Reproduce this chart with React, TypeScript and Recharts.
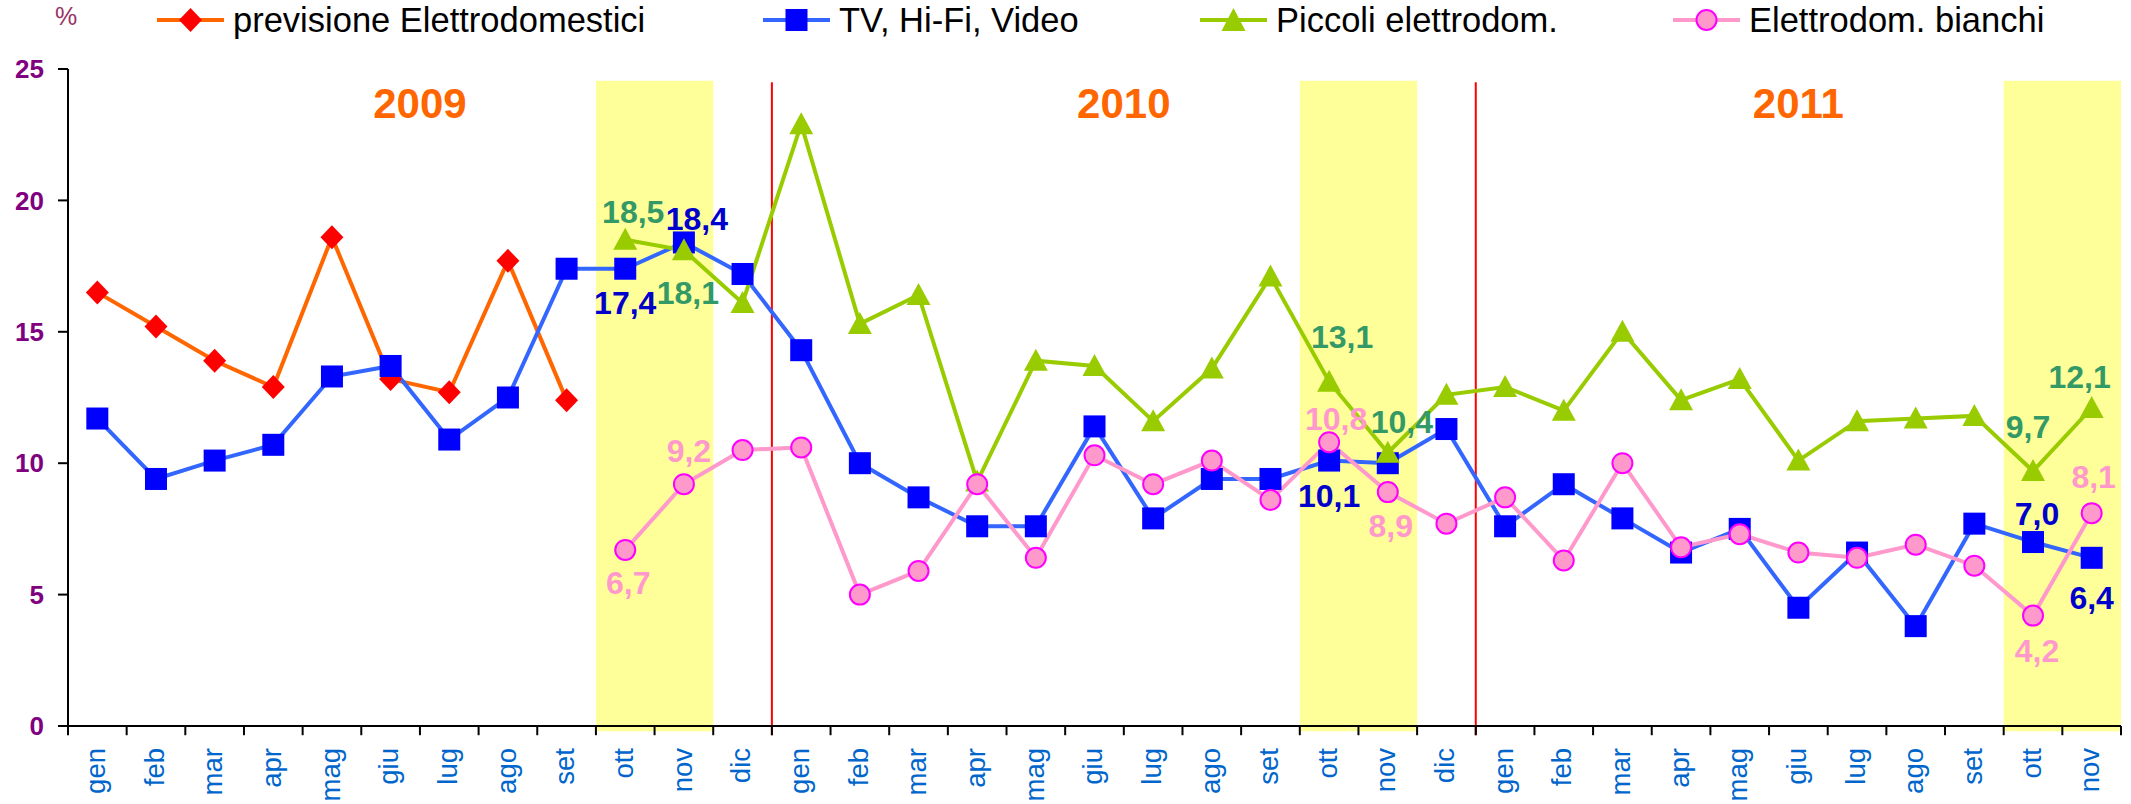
import React from 'react';
import { LineChart, Line, XAxis, YAxis, ReferenceArea, ReferenceLine, ReferenceDot, LabelList } from 'recharts';

// categories: month + year suffix (unique keys), label shows only the month
const categories = [
  'gen 09', 'feb 09', 'mar 09', 'apr 09', 'mag 09', 'giu 09', 'lug 09', 'ago 09', 'set 09', 'ott 09', 'nov 09', 'dic 09',
  'gen 10', 'feb 10', 'mar 10', 'apr 10', 'mag 10', 'giu 10', 'lug 10', 'ago 10', 'set 10', 'ott 10', 'nov 10', 'dic 10',
  'gen 11', 'feb 11', 'mar 11', 'apr 11', 'mag 11', 'giu 11', 'lug 11', 'ago 11', 'set 11', 'ott 11', 'nov 11',
];

const previsione = [
  16.5, 15.2, 13.9, 12.9, 18.6, 13.2, 12.7, 17.7, 12.4, null, null, null,
  null, null, null, null, null, null, null, null, null, null, null, null,
  null, null, null, null, null, null, null, null, null, null, null,
];

const tvHifi = [
  11.7, 9.4, 10.1, 10.7, 13.3, 13.7, 10.9, 12.5, 17.4, 17.4, 18.4, 17.2,
  14.3, 10.0, 8.7, 7.6, 7.6, 11.4, 7.9, 9.4, 9.4, 10.1, 10.0, 11.3,
  7.6, 9.2, 7.9, 6.6, 7.5, 4.5, 6.6, 3.8, 7.7, 7.0, 6.4,
];

const piccoli = [
  null, null, null, null, null, null, null, null, null, 18.5, 18.1, 16.1,
  22.9, 15.3, 16.4, 9.3, 13.9, 13.7, 11.6, 13.6, 17.1, 13.1, 10.4, 12.6,
  12.9, 12.0, 15.0, 12.4, 13.2, 10.1, 11.6, 11.7, 11.8, 9.7, 12.1,
];

const bianchi = [
  null, null, null, null, null, null, null, null, null, 6.7, 9.2, 10.5,
  10.6, 5.0, 5.9, 9.2, 6.4, 10.3, 9.2, 10.1, 8.6, 10.8, 8.9, 7.7,
  8.7, 6.3, 10.0, 6.8, 7.3, 6.6, 6.4, 6.9, 6.1, 4.2, 8.1,
];

const yTicks = [0, 5, 10, 15, 20, 25];
const years = [
  { label: '2009', suffix: '09' },
  { label: '2010', suffix: '10' },
  { label: '2011', suffix: '11' },
];
const highlightBands = [['ott 09', 'nov 09'], ['ott 10', 'nov 10'], ['ott 11', 'nov 11']];
const yearStarts = ['gen 10', 'gen 11'];

// label placement (dx, dy from the point) for the annotated values
const tvLabelPos: Record<string, number[]> = {
  'ott 09': [0, 45], 'nov 09': [13, -12], 'ott 10': [0, 46], 'ott 11': [4, -17], 'nov 11': [0, 51],
};
const piccoliLabelPos: Record<string, number[]> = {
  'ott 09': [8, -17], 'nov 09': [4, 54], 'ott 10': [13, -34], 'nov 10': [14, -20], 'ott 11': [-5, -33], 'nov 11': [-12, -20],
};
const bianchiLabelPos: Record<string, number[]> = {
  'ott 09': [3, 44], 'nov 09': [5, -22], 'ott 10': [7, -12], 'nov 10': [3, 45], 'ott 11': [4, 46], 'nov 11': [2, -25],
};

const data = categories.map((key, i) => ({
  key,
  slot: i + 0.5, // position on the hidden numeric "edges" axis
  previsione: previsione[i],
  tv: tvHifi[i],
  piccoli: piccoli[i],
  bianchi: bianchi[i],
}));

const FONT = "'Liberation Sans', Arial, sans-serif";
const fmt = (v: number) => v.toFixed(1).replace('.', ',');
const ok = (p: any) => p && p.cy != null && !isNaN(p.cy) && p.value != null;

const diamondDot = (p: any) =>
  ok(p) ? (
    <path key={p.index} d={`M${p.cx},${p.cy - 12}L${p.cx + 11.5},${p.cy}L${p.cx},${p.cy + 12}L${p.cx - 11.5},${p.cy}Z`} fill="#FF0000" />
  ) : <g key={p.index} />;

const squareDot = (p: any) =>
  ok(p) ? <rect key={p.index} x={p.cx - 11} y={p.cy - 11} width={22} height={22} fill="#0000FF" /> : <g key={p.index} />;

const triangleDot = (p: any) =>
  ok(p) ? (
    <path key={p.index} d={`M${p.cx},${p.cy - 12}L${p.cx + 12},${p.cy + 10}L${p.cx - 12},${p.cy + 10}Z`} fill="#99CC00" />
  ) : <g key={p.index} />;

const circleDot = (p: any) =>
  ok(p) ? <circle key={p.index} cx={p.cx} cy={p.cy} r={10} fill="#FF99CC" stroke="#FF00FF" strokeWidth={2} /> : <g key={p.index} />;

const makeLabel = (pos: Record<string, number[]>, color: string) => (p: any) => {
  const off = pos[categories[p.index]];
  if (!off || p.value == null) return null;
  const x = p.x ?? p.viewBox?.x;
  const y = p.y ?? p.viewBox?.y;
  return (
    <text x={x + off[0]} y={y + off[1]} textAnchor="middle" fill={color} fontFamily={FONT} fontWeight="bold" fontSize={32}>
      {fmt(Number(p.value))}
    </text>
  );
};

const MonthTick = (props: any) => {
  const { x, y, payload } = props;
  return (
    <text x={x} y={y} dy="0.28em" transform={`rotate(-90 ${x} ${y})`} textAnchor="end" fill="#0066CC" fontFamily={FONT} fontSize={27.5}>
      {String(payload.value).split(' ')[0]}
    </text>
  );
};

const legendItems = [
  { name: 'previsione Elettrodomestici', left: 157, line: '#FF6600', marker: 'diamond' },
  { name: 'TV, Hi-Fi, Video', left: 763, line: '#3366FF', marker: 'square' },
  { name: 'Piccoli elettrodom.', left: 1200, line: '#99CC00', marker: 'triangle' },
  { name: 'Elettrodom. bianchi', left: 1673, line: '#FF99CC', marker: 'circle' },
];

const LegendIcon = ({ line, marker }: { line: string; marker: string }) => (
  <svg width={67} height={26}>
    <line x1={0} y1={13} x2={67} y2={13} stroke={line} strokeWidth={4} />
    {marker === 'diamond' && <path d="M33.5,1L45,13L33.5,25L22,13Z" fill="#FF0000" />}
    {marker === 'square' && <rect x={22.5} y={2} width={22} height={22} fill="#0000FF" />}
    {marker === 'triangle' && <path d="M33.5,1L45.5,24L21.5,24Z" fill="#99CC00" />}
    {marker === 'circle' && <circle cx={33.5} cy={13} r={10} fill="#FF99CC" stroke="#FF00FF" strokeWidth={2} />}
  </svg>
);

const App = () => {
  const edges = Array.from({ length: categories.length + 1 }, (_, i) => i);

  return (
    <div style={{ position: 'absolute', left: 0, top: 0, width: 2131, height: 804, background: '#fff' }}>
      <div style={{ position: 'absolute', left: 55, top: 2, fontFamily: FONT, fontSize: 25, color: '#993366' }}>%</div>
      {legendItems.map((item) => (
        <div key={item.name} style={{ position: 'absolute', left: item.left, top: 0, height: 40, display: 'flex', alignItems: 'center' }}>
          <LegendIcon line={item.line} marker={item.marker} />
          <span style={{ marginLeft: 9, fontFamily: FONT, fontSize: 34.5, color: '#000', whiteSpace: 'nowrap' }}>{item.name}</span>
        </div>
      ))}

      <LineChart width={2131} height={804} data={data} margin={{ top: 69, right: 10, bottom: 0, left: 0 }}>
        <XAxis xAxisId="edges" dataKey="slot" type="number" domain={[0, categories.length]} hide allowDataOverflow />

        {highlightBands.map(([a, b]) => (
          <ReferenceArea key={a} x1={a} x2={b} y1={-0.2} y2={24.55} fill="#FFFF99" fillOpacity={1} stroke="none" ifOverflow="visible" />
        ))}

        {yearStarts.map((k) => {
          const i = categories.indexOf(k);
          return (
            <ReferenceLine
              key={k}
              xAxisId="edges"
              segment={[{ x: i, y: -0.35 }, { x: i, y: 24.5 }]}
              stroke="#FF0000"
              strokeWidth={2}
              ifOverflow="visible"
            />
          );
        })}

        {edges.map((i) => (
          <ReferenceLine
            key={`t${i}`}
            xAxisId="edges"
            segment={[{ x: i, y: 0 }, { x: i, y: -0.35 }]}
            stroke="#000"
            strokeWidth={2}
            ifOverflow="visible"
          />
        ))}

        {years.map((yr) => {
          const idx = categories.map((c, i) => (c.endsWith(yr.suffix) ? i : -1)).filter((i) => i >= 0);
          const center = (idx[0] + idx[idx.length - 1] + 1) / 2;
          return (
            <ReferenceDot
              key={yr.label}
              xAxisId="edges"
              x={center}
              y={23.7}
              r={0}
              fill="none"
              stroke="none"
              label={{ value: yr.label, position: 'center', fill: '#FF6600', fontSize: 42, fontWeight: 'bold', fontFamily: FONT }}
            />
          );
        })}

        <XAxis
          dataKey="key"
          scale="band"
          interval={0}
          height={78}
          tickLine={false}
          tickSize={0}
          tickMargin={22}
          axisLine={{ stroke: '#000', strokeWidth: 2 }}
          tick={<MonthTick />}
        />
        <YAxis
          domain={[0, 25]}
          ticks={yTicks}
          width={68}
          tickSize={10}
          tickMargin={14}
          axisLine={{ stroke: '#000', strokeWidth: 2 }}
          tickLine={{ stroke: '#000', strokeWidth: 2 }}
          tick={{ fill: '#800080', fontSize: 26, fontWeight: 'bold', fontFamily: FONT }}
        />

        <Line dataKey="previsione" stroke="#FF6600" strokeWidth={4} dot={diamondDot} activeDot={false} isAnimationActive={false} />
        <Line dataKey="tv" stroke="#3366FF" strokeWidth={4} dot={squareDot} activeDot={false} isAnimationActive={false}>
          <LabelList dataKey="tv" content={makeLabel(tvLabelPos, '#0000CC')} />
        </Line>
        <Line dataKey="piccoli" stroke="#99CC00" strokeWidth={4} dot={triangleDot} activeDot={false} isAnimationActive={false}>
          <LabelList dataKey="piccoli" content={makeLabel(piccoliLabelPos, '#339966')} />
        </Line>
        <Line dataKey="bianchi" stroke="#FF99CC" strokeWidth={4} dot={circleDot} activeDot={false} isAnimationActive={false}>
          <LabelList dataKey="bianchi" content={makeLabel(bianchiLabelPos, '#FF99CC')} />
        </Line>
      </LineChart>
    </div>
  );
};

export default App;
